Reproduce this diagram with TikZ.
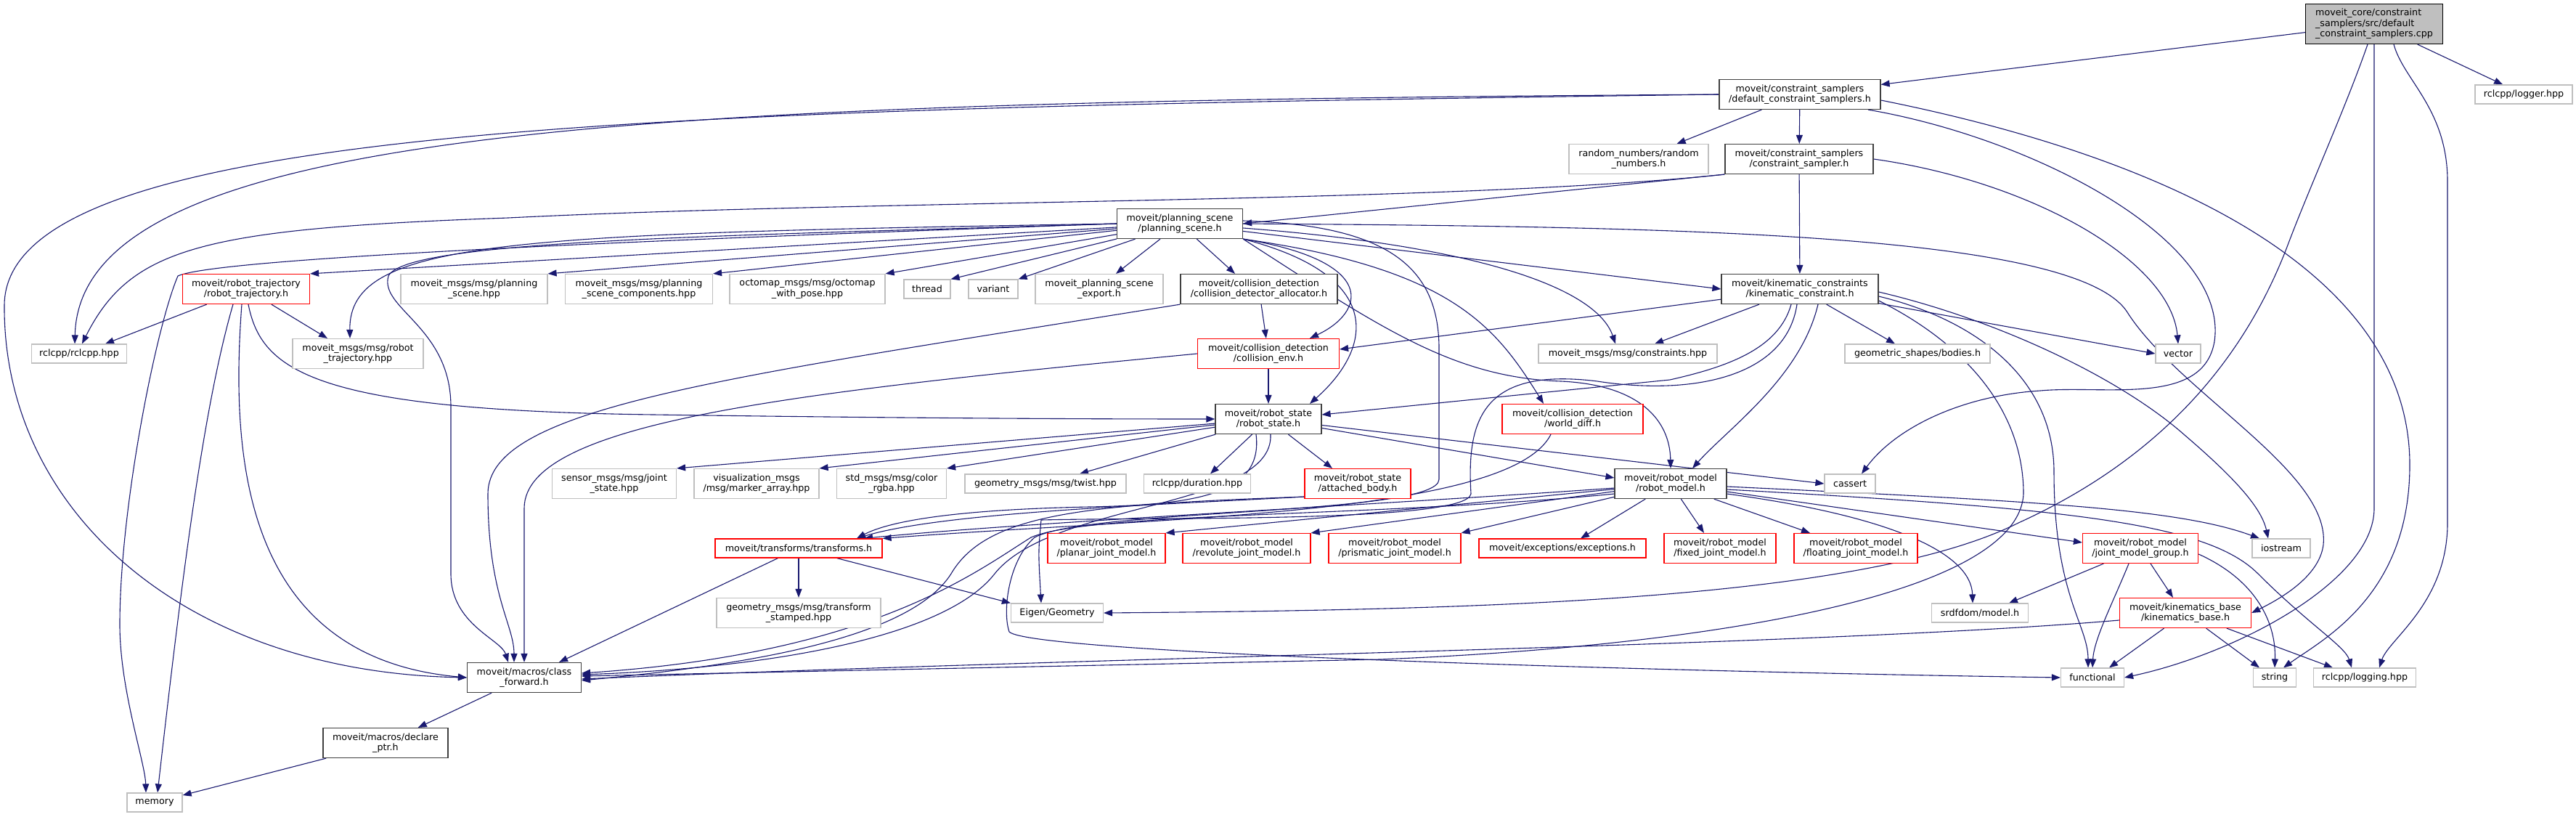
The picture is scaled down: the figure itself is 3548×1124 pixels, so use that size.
\documentclass[tikz,border=0pt]{standalone}
\usepackage{fontspec}
\newfontfamily\dvs{DejaVu Sans}
\usepackage{xcolor}
\usetikzlibrary{arrows.meta,backgrounds}
\definecolor{edgeblue}{HTML}{191970}
\definecolor{extgray}{HTML}{BFBFBF}
\definecolor{docgray}{HTML}{404040}
\definecolor{fillgray}{HTML}{BFBFBF}

\begin{document}
\begin{tikzpicture}[
  x=1pt, y=-1pt,
  font=\dvs\fontsize{12.7}{14.5}\selectfont,
  file/.style={rectangle, line width=1.2pt, align=center, inner sep=3pt, fill=white},
  one/.style={file, minimum height=26pt},
  two/.style={file, minimum height=41pt},
  doc/.style={draw=docgray},
  ext/.style={draw=extgray},
  trunc/.style={draw=red},
  srcfile/.style={file, draw=black, fill=fillgray, align=left, minimum height=55pt},
  dep/.style={draw=edgeblue, line width=1.1pt, -{Triangle[length=12pt, width=9pt]}}
]
  \useasboundingbox (0,0) rectangle (3548,1124);

  % Source file and first headers
  \node[srcfile, minimum width=189pt] (src) at (3270,33) {moveit\_core/constraint\\\_samplers/src/default\\\_constraint\_samplers.cpp};
  \node[one, ext, minimum width=134pt] (logger) at (3476,130) {rclcpp/logger.hpp};
  \node[two, doc, minimum width=222pt] (dcs) at (2479,130) {moveit/constraint\_samplers\\/default\_constraint\_samplers.h};
  \node[two, ext, minimum width=192pt] (random) at (2257,219) {random\_numbers/random\\\_numbers.h};
  \node[two, doc, minimum width=204pt] (csamp) at (2478,219) {moveit/constraint\_samplers\\/constraint\_sampler.h};
  \node[two, doc, minimum width=173pt] (ps) at (1625,308) {moveit/planning\_scene\\/planning\_scene.h};

  % Row under the planning scene
  \node[two, trunc, minimum width=175pt] (traj) at (339,398) {moveit/robot\_trajectory\\/robot\_trajectory.h};
  \node[two, ext, minimum width=202pt] (msgps) at (653,398) {moveit\_msgs/msg/planning\\\_scene.hpp};
  \node[two, ext, minimum width=203pt] (msgpsc) at (880,398) {moveit\_msgs/msg/planning\\\_scene\_components.hpp};
  \node[two, ext, minimum width=214pt] (octo) at (1112,398) {octomap\_msgs/msg/octomap\\\_with\_pose.hpp};
  \node[one, ext, minimum width=64pt] (thread) at (1277,398) {thread};
  \node[one, ext, minimum width=68pt] (variant) at (1368,398) {variant};
  \node[two, ext, minimum width=176pt] (export) at (1514,398) {moveit\_planning\_scene\\\_export.h};
  \node[two, doc, minimum width=216pt] (cda) at (1734,398) {moveit/collision\_detection\\/collision\_detector\_allocator.h};
  \node[two, doc, minimum width=216pt] (kc) at (2479,398) {moveit/kinematic\_constraints\\/kinematic\_constraint.h};

  % Next row
  \node[one, ext, minimum width=131pt] (rclcpp) at (109,487) {rclcpp/rclcpp.hpp};
  \node[two, ext, minimum width=180pt] (msgtraj) at (493,487) {moveit\_msgs/msg/robot\\\_trajectory.hpp};
  \node[two, trunc, minimum width=195pt] (cenv) at (1747,487) {moveit/collision\_detection\\/collision\_env.h};
  \node[one, ext, minimum width=246pt] (msgcons) at (2242,487) {moveit\_msgs/msg/constraints.hpp};
  \node[one, ext, minimum width=200pt] (bodies) at (2641,487) {geometric\_shapes/bodies.h};
  \node[one, ext, minimum width=62pt] (vector) at (3000,487) {vector};

  % Robot state level
  \node[two, doc, minimum width=146pt] (rstate) at (1747,577) {moveit/robot\_state\\/robot\_state.h};
  \node[two, trunc, minimum width=194pt] (wdiff) at (2166,577) {moveit/collision\_detection\\/world\_diff.h};
  \node[two, ext, minimum width=171pt] (joint) at (846,666) {sensor\_msgs/msg/joint\\\_state.hpp};
  \node[two, ext, minimum width=172pt] (marker) at (1042,666) {visualization\_msgs\\/msg/marker\_array.hpp};
  \node[two, ext, minimum width=151pt] (rgba) at (1228,666) {std\_msgs/msg/color\\\_rgba.hpp};
  \node[one, ext, minimum width=222pt] (twist) at (1440,666) {geometry\_msgs/msg/twist.hpp};
  \node[one, ext, minimum width=147pt] (duration) at (1649,666) {rclcpp/duration.hpp};
  \node[two, trunc, minimum width=146pt] (attached) at (1870,666) {moveit/robot\_state\\/attached\_body.h};
  \node[two, doc, minimum width=154pt] (rmodel) at (2301,666) {moveit/robot\_model\\/robot\_model.h};
  \node[one, ext, minimum width=70pt] (cassert) at (2548,666) {cassert};

  % Robot model level
  \node[one, trunc, minimum width=230pt] (transforms) at (1100,755) {moveit/transforms/transforms.h};
  \node[two, trunc, minimum width=162pt] (planar) at (1524,755) {moveit/robot\_model\\/planar\_joint\_model.h};
  \node[two, trunc, minimum width=176pt] (revolute) at (1717,755) {moveit/robot\_model\\/revolute\_joint\_model.h};
  \node[two, trunc, minimum width=182pt] (prismatic) at (1921,755) {moveit/robot\_model\\/prismatic\_joint\_model.h};
  \node[one, trunc, minimum width=230pt] (exceptions) at (2152,755) {moveit/exceptions/exceptions.h};
  \node[two, trunc, minimum width=154pt] (fixed) at (2369,755) {moveit/robot\_model\\/fixed\_joint\_model.h};
  \node[two, trunc, minimum width=170pt] (floating) at (2556,755) {moveit/robot\_model\\/floating\_joint\_model.h};
  \node[two, trunc, minimum width=159pt] (jmg) at (2948,755) {moveit/robot\_model\\/joint\_model\_group.h};
  \node[one, ext, minimum width=80pt] (iostream) at (3142,755) {iostream};

  % Lower rows
  \node[two, ext, minimum width=226pt] (tfstamped) at (1100,844) {geometry\_msgs/msg/transform\\\_stamped.hpp};
  \node[one, ext, minimum width=127pt] (eigen) at (1456,844) {Eigen/Geometry};
  \node[one, ext, minimum width=133pt] (srdf) at (2727,844) {srdfdom/model.h};
  \node[two, trunc, minimum width=181pt] (kbase) at (3010,844) {moveit/kinematics\_base\\/kinematics\_base.h};
  \node[two, doc, minimum width=157pt] (cfwd) at (722,933) {moveit/macros/class\\\_forward.h};
  \node[one, ext, minimum width=87pt] (functional) at (2882,933) {functional};
  \node[one, ext, minimum width=59pt] (string) at (3133,933) {string};
  \node[one, ext, minimum width=141pt] (logging) at (3257,933) {rclcpp/logging.hpp};
  \node[two, doc, minimum width=172pt] (declare) at (531,1023) {moveit/macros/declare\\\_ptr.h};
  \node[one, ext, minimum width=76pt] (memory) at (213,1105) {memory};

  \begin{scope}[on background layer]
  \fill[white] (0,0) rectangle (3548,1124);

  % Source file
  \draw[dep] (src) -- (dcs);
  \draw[dep] (src) -- (logger);
  \draw[dep] ([xshift=-9pt]src.south) .. controls (3230,150) and (3180,260) .. (3150,340)
    .. controls (3100,470) and (3000,620) .. (2780,720)
    .. controls (2560,830) and (2000,840) .. (eigen.east);
  \draw[dep] (src.south) -- (3270,700) .. controls (3270,800) and (3080,900) .. (functional.east);
  \draw[dep] ([xshift=27pt]src.south) .. controls (3310,110) and (3371,150) .. (3371,250)
    -- (3371,720) .. controls (3371,830) and (3290,880) .. ([xshift=20pt]logging.north);

  % Default constraint samplers header
  \draw[dep] (dcs) -- (csamp);
  \draw[dep] (dcs) -- (random);
  \draw[dep] (dcs.west) .. controls (900,140) and (110,170) .. ([xshift=-6pt]rclcpp.north);
  \draw[dep] (dcs.west) .. controls (900,150) and (8,170) .. (6,420)
    .. controls (4,700) and (250,925) .. (cfwd.west);
  \draw[dep] ([yshift=-8pt]dcs.east) .. controls (3000,220) and (3319,380) .. (3319,640)
    .. controls (3319,820) and (3200,880) .. ([xshift=12pt]string.north);
  \draw[dep] ([xshift=94pt]dcs.south) .. controls (2800,190) and (3070,330) .. (3050,470)
    .. controls (3035,560) and (2900,530) .. (2810,538)
    .. controls (2700,545) and (2610,590) .. ([xshift=16pt]cassert.north);

  % Constraint sampler
  \draw[dep] (csamp.south west) -- (ps.east);
  \draw[dep] (csamp) -- (kc);
  \draw[dep] (csamp.south west) .. controls (2000,280) and (1200,275) .. (700,300)
    .. controls (280,315) and (180,340) .. ([xshift=4pt]rclcpp.north);
  \draw[dep] (csamp.east) .. controls (2800,250) and (2990,360) .. (vector.north);

  % Planning scene
  \draw[dep] (ps) -- (traj.north east);
  \draw[dep] (ps.west) .. controls (700,322) and (480,330) .. ([xshift=-11pt]msgtraj.north);
  \draw[dep] (ps.west) .. controls (900,330) and (300,355) .. (245,380)
    .. controls (215,450) and (165,700) .. (165,860)
    .. controls (165,950) and (200,1050) .. ([xshift=-12pt]memory.north);
  \draw[dep] (ps.west) .. controls (1000,325) and (560,330) .. (535,380)
    .. controls (522,425) and (621,450) .. (621,560) -- (621,790)
    .. controls (621,860) and (690,880) .. ([xshift=-22pt]cfwd.north);
  \draw[dep] (ps) -- (msgps.north east);
  \draw[dep] (ps) -- (msgpsc.north east);
  \draw[dep] (ps) -- (octo.north east);
  \draw[dep] (ps) -- (thread.north east);
  \draw[dep] (ps) -- (variant.north east);
  \draw[dep] (ps) -- ([xshift=23pt]export.north);
  \draw[dep] (ps) -- ([xshift=-33pt]cda.north);
  \draw[dep] (ps.south east) .. controls (1900,360) and (1880,430) .. ([xshift=57pt]cenv.north);
  \draw[dep] (ps.south east) .. controls (1910,380) and (1890,480) .. ([xshift=57pt]rstate.north);
  \draw[dep] (ps.south east) .. controls (2000,370) and (2060,450) .. ([xshift=-40pt]wdiff.north);
  \draw[dep] ([yshift=-6pt]ps.east) .. controls (2050,340) and (2200,400) .. ([xshift=-17pt]msgcons.north);
  \draw[dep] (ps) -- (kc.west);
  \draw[dep] (ps.south east) .. controls (1900,450) and (2000,520) .. (2150,525)
    .. controls (2260,530) and (2300,580) .. (rmodel.north);
  \draw[dep] ([yshift=4pt]ps.east) .. controls (1900,310) and (1982,360) .. (1982,480)
    -- (1982,660) .. controls (1982,710) and (1500,700) .. (1425,740)
    .. controls (1390,770) and (1380,840) .. (1390,870)
    .. controls (1420,900) and (2300,925) .. (functional.west);
  \draw[dep] (ps.east) .. controls (2300,312) and (2860,320) .. (2930,430)
    .. controls (3000,540) and (3210,650) .. (3200,750)
    .. controls (3195,790) and (3150,820) .. (kbase.east);

  % Robot trajectory
  \draw[dep] (traj) -- ([xshift=36pt]rclcpp.north);
  \draw[dep] (traj) -- ([xshift=-42pt]msgtraj.north);
  \draw[dep] ([xshift=-18pt]traj.south) .. controls (280,560) and (250,800) .. ([xshift=4pt]memory.north);
  \draw[dep] ([xshift=-6pt]traj.south) .. controls (318,620) and (330,905) .. (cfwd.west);
  \draw[dep] ([xshift=3pt]traj.south) .. controls (360,510) and (430,565) .. (900,571)
    .. controls (1250,576) and (1500,577) .. (rstate.west);

  % Collision detection
  \draw[dep] (cda) -- (cenv);
  \draw[dep] (cda.south west) .. controls (1000,520) and (672,560) .. (672,680)
    .. controls (672,820) and (708,860) .. ([xshift=-14pt]cfwd.north);
  \draw[dep] (cenv) -- (rstate);
  \draw[dep] (cenv.west) .. controls (1100,540) and (722,580) .. (722,700) -- (cfwd.north);

  % Kinematic constraint
  \draw[dep] (kc) -- ([yshift=6pt]cenv.east);
  \draw[dep] ([xshift=-12pt]kc.south) .. controls (2450,480) and (2380,505) .. (2300,523)
    -- ([yshift=6pt]rstate.east);
  \draw[dep] (kc) -- ([xshift=37pt]msgcons.north);
  \draw[dep] ([xshift=-4pt]kc.south) .. controls (2460,520) and (2330,545) .. (2200,525)
    .. controls (2040,505) and (2020,580) .. (2026,680)
    .. controls (2020,720) and (1600,712) .. (1434,716)
    .. controls (1430,760) .. ([xshift=-22pt]eigen.north);
  \draw[dep] ([xshift=25pt]kc.south) .. controls (2480,520) and (2380,590) .. ([xshift=30pt]rmodel.north);
  \draw[dep] (kc) -- ([xshift=-31pt]bodies.north);
  \draw[dep] (kc) -- (vector.west);
  \draw[dep] ([yshift=-4pt]kc.east) .. controls (2750,440) and (2920,520) .. (3010,600)
    .. controls (3080,660) and (3115,700) .. ([xshift=-18pt]iostream.north);
  \draw[dep] ([yshift=-10pt]kc.east) .. controls (2720,440) and (2829,520) .. (2829,650)
    .. controls (2829,820) and (2876,860) .. ([xshift=-6pt]functional.north);
  \draw[dep] ([yshift=-16pt]kc.east) .. controls (2700,470) and (2787,560) .. (2787,680)
    .. controls (2780,820) and (2350,890) .. (1900,908) -- ([yshift=2pt]cfwd.east);

  % Robot state
  \draw[dep] (rstate) -- (joint.north east);
  \draw[dep] (rstate) -- (marker.north east);
  \draw[dep] (rstate) -- (rgba.north east);
  \draw[dep] (rstate) -- ([xshift=47pt]twist.north);
  \draw[dep] (rstate) -- ([xshift=18pt]duration.north);
  \draw[dep] (rstate) -- ([xshift=-35pt]attached.north);
  \draw[dep] (rstate) -- ([yshift=8pt]rmodel.west);
  \draw[dep] (rstate) -- (cassert.west);
  \draw[dep] ([xshift=-17pt]rstate.south) .. controls (1740,680) and (1650,695) .. (1500,698)
    .. controls (1300,702) and (1220,720) .. ([xshift=80pt]transforms.north);
  \draw[dep] ([xshift=3pt]rstate.south) .. controls (1755,700) and (1450,690) .. (1370,790)
    .. controls (1300,880) and (1050,920) .. ([yshift=4pt]cfwd.east);
  \draw[dep] ([yshift=-18pt]attached.west) .. controls (1500,695) and (1360,705) .. (1310,790)
    .. controls (1250,885) and (1000,918) .. ([yshift=-4pt]cfwd.east);
  \draw[dep] ([yshift=-18pt]attached.west) .. controls (1600,695) and (1300,705) .. ([xshift=80pt]transforms.north);
  \draw[dep] ([xshift=-30pt]wdiff.south) .. controls (2080,710) and (1600,712) .. (transforms.north east);

  % Robot model
  \draw[dep] (rmodel) -- (planar.north east);
  \draw[dep] (rmodel) -- (revolute.north east);
  \draw[dep] (rmodel) -- (prismatic.north east);
  \draw[dep] (rmodel) -- ([xshift=25pt]exceptions.north);
  \draw[dep] (rmodel) -- ([xshift=-22pt]fixed.north);
  \draw[dep] (rmodel) -- ([xshift=-63pt]floating.north);
  \draw[dep] (rmodel) -- ([yshift=8pt]jmg.west);
  \draw[dep] ([yshift=-4pt]rmodel.east) .. controls (2800,690) and (3000,700) .. ([xshift=-30pt]iostream.north);
  \draw[dep] ([yshift=-14pt]rmodel.east) .. controls (2600,710) and (2715,760) .. ([xshift=-10pt]srdf.north);
  \draw[dep] ([yshift=-8pt]rmodel.east) .. controls (2850,700) and (3040,720) .. (3110,790)
    .. controls (3180,860) and (3230,890) .. ([xshift=-18pt]logging.north);
  \draw[dep] ([yshift=-6pt]rmodel.west) .. controls (1900,695) and (1400,720) .. ([xshift=90pt]transforms.north);
  \draw[dep] ([yshift=-14pt]rmodel.west) .. controls (1900,712) and (1500,705) .. (1420,740)
    .. controls (1340,790) and (1200,900) .. ([yshift=6pt]cfwd.east);

  % Joint model group and kinematics base
  \draw[dep] (jmg) -- ([xshift=40pt]srdf.north);
  \draw[dep] ([xshift=-16pt]jmg.south) .. controls (2910,830) and (2884,880) .. (functional.north);
  \draw[dep] (jmg) -- ([xshift=-17pt]kbase.north);
  \draw[dep] ([yshift=-8pt]jmg.east) .. controls (3110,800) and (3135,860) .. (string.north);
  \draw[dep] (kbase) -- ([xshift=23pt]functional.north);
  \draw[dep] (kbase) -- ([xshift=-21pt]string.north);
  \draw[dep] (kbase) -- ([xshift=-44pt]logging.north);
  \draw[dep] ([yshift=-10pt]kbase.west) .. controls (2500,890) and (1500,905) .. ([yshift=-2pt]cfwd.east);

  % Transforms and macros
  \draw[dep] (transforms) -- (tfstamped);
  \draw[dep] (transforms) -- (eigen.north west);
  \draw[dep] (transforms) -- ([xshift=48pt]cfwd.north);
  \draw[dep] (cfwd) -- (declare);
  \draw[dep] (declare) -- (memory);
  \end{scope}
\end{tikzpicture}
\end{document}
